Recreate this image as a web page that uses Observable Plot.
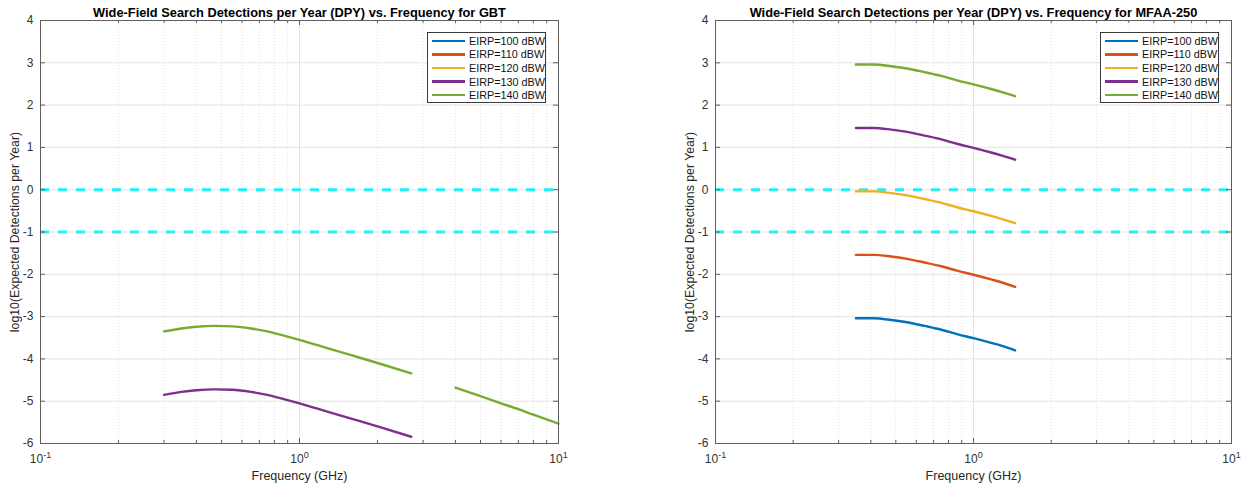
<!DOCTYPE html>
<html>
<head>
<meta charset="utf-8">
<script src="https://cdn.jsdelivr.net/npm/d3@7"></script>
<script src="https://cdn.jsdelivr.net/npm/@observablehq/plot@0.6"></script>
<style>
  body { margin: 0; background: #fff; }
  #wrap { display: flex; width: 1255px; height: 487px; font-family: "Liberation Sans", Arial, sans-serif; }
  .panel { position: relative; height: 487px; }
  .legend { position: absolute; box-sizing: border-box; width: 119px; height: 71px; border: 1px solid #3a3a3a;
            background: #fff; font-size: 10.8px; color: #111; padding-top: 1px; }
  .row { height: 13.6px; display: flex; align-items: center; white-space: nowrap; }
  .sw { width: 33px; height: 2.6px; margin-left: 4px; margin-right: 4px; flex: none; }
</style>
</head>
<body>
<div id="wrap"></div>
<script>
// ---------- data ----------
const eirpLabels = ["EIRP=100 dBW", "EIRP=110 dBW", "EIRP=120 dBW", "EIRP=130 dBW", "EIRP=140 dBW"];
const eirpColors = ["#0072BD", "#D95319", "#EDB120", "#7E2F8E", "#77AC30"];

const xTicks = [0.1, 1, 10];
const xTickLabels = ["10^-1", "10^0", "10^1"];
const minorXTicks = [0.2, 0.3, 0.4, 0.5, 0.6, 0.7, 0.8, 0.9, 2, 3, 4, 5, 6, 7, 8, 9];
const yTicks = [-6, -5, -4, -3, -2, -1, 0, 1, 2, 3, 4];
const yTickLabels = ["-6", "-5", "-4", "-3", "-2", "-1", "0", "1", "2", "3", "4"];
const thresholds = [0, -1];

const titleGBT = "Wide-Field Search Detections per Year (DPY) vs. Frequency for GBT";
const titleMFAA = "Wide-Field Search Detections per Year (DPY) vs. Frequency for MFAA-250";
const xLabel = "Frequency (GHz)";
const yLabel = "log10(Expected Detections per Year)";

// GBT (only EIRP=130 and 140 fall inside the plotted range)
const gbtFreqLow = [0.3, 0.35, 0.40, 0.47, 0.55, 0.65, 0.75, 0.87, 1.0, 1.28, 1.62, 2.06, 2.7];
const gbt130Low  = [-4.85, -4.78, -4.74, -4.72, -4.73, -4.78, -4.85, -4.95, -5.05, -5.245, -5.43, -5.62, -5.84];
const gbt140Low  = [-3.35, -3.28, -3.24, -3.22, -3.23, -3.28, -3.35, -3.45, -3.55, -3.745, -3.93, -4.12, -4.34];
const gbtFreqHigh = [4.0, 5, 6, 7, 8, 10];
const gbt140High  = [-4.68, -4.88, -5.05, -5.19, -5.32, -5.53];

// MFAA-250
const mfaaFreq = [0.35, 0.41, 0.48, 0.56, 0.645, 0.75, 0.87, 1.0, 1.17, 1.3, 1.45];
const mfaa100 = [-3.04, -3.04, -3.08, -3.14, -3.22, -3.31, -3.42, -3.51, -3.62, -3.70, -3.80];
const mfaa110 = [-1.54, -1.54, -1.58, -1.64, -1.72, -1.81, -1.92, -2.01, -2.12, -2.20, -2.30];
const mfaa120 = [-0.04, -0.04, -0.08, -0.14, -0.22, -0.31, -0.42, -0.51, -0.62, -0.70, -0.79];
const mfaa130 = [1.46, 1.46, 1.42, 1.36, 1.28, 1.19, 1.08, 0.99, 0.88, 0.80, 0.71];
const mfaa140 = [2.96, 2.96, 2.92, 2.86, 2.78, 2.69, 2.58, 2.49, 2.38, 2.30, 2.21];

// ---------- build tables ----------
function seriesRows(freqs, vals, series, key) {
  return freqs.map((f, i) => ({ f, v: vals[i], series, key }));
}
const gbtRows = [
  ...seriesRows(gbtFreqLow, gbt130Low, eirpLabels[3], "130a"),
  ...seriesRows(gbtFreqLow, gbt140Low, eirpLabels[4], "140a"),
  ...seriesRows(gbtFreqHigh, gbt140High, eirpLabels[4], "140b")
];
const mfaaRows = [
  ...seriesRows(mfaaFreq, mfaa100, eirpLabels[0], "100"),
  ...seriesRows(mfaaFreq, mfaa110, eirpLabels[1], "110"),
  ...seriesRows(mfaaFreq, mfaa120, eirpLabels[2], "120"),
  ...seriesRows(mfaaFreq, mfaa130, eirpLabels[3], "130"),
  ...seriesRows(mfaaFreq, mfaa140, eirpLabels[4], "140")
];

const FONT = '"Liberation Sans", Arial, Helvetica, sans-serif';
const AXC = "#5e5e5e";

function panel({ width, ml, mr, title, rows }) {
  const mt = 20, mb = 44, height = 487;
  const fw = width - ml - mr, fh = height - mt - mb;
  const chart = Plot.plot({
    width, height,
    marginLeft: ml, marginRight: mr, marginTop: mt, marginBottom: mb,
    x: { type: "log", domain: [0.1, 10] },
    y: { domain: [-6, 4] },
    color: { domain: eirpLabels, range: eirpColors },
    style: { fontFamily: FONT, fontSize: "12px", color: "#262626", background: "white", overflow: "visible" },
    marks: [
      Plot.ruleX(minorXTicks, { stroke: "#e0e0e0", strokeDasharray: "1,2", strokeWidth: 1 }),
      Plot.ruleX(xTicks, { stroke: "#e3e3e3", strokeWidth: 1 }),
      Plot.ruleY(yTicks, { stroke: "#e3e3e3", strokeWidth: 1 }),
      Plot.ruleY(thresholds, { stroke: "#22f2f5", strokeWidth: 3, strokeDasharray: "9,9" }),
      Plot.line(rows, { x: "f", y: "v", z: "key", stroke: "series", strokeWidth: 2.4, curve: "monotone-x" }),
      // inward ticks (bottom/top, left/right)
      Plot.ruleX(minorXTicks, { stroke: AXC, insetTop: fh - 3 }),
      Plot.ruleX(minorXTicks, { stroke: AXC, insetBottom: fh - 3 }),
      Plot.ruleX(xTicks, { stroke: AXC, insetTop: fh - 5 }),
      Plot.ruleX(xTicks, { stroke: AXC, insetBottom: fh - 5 }),
      Plot.ruleY(yTicks, { stroke: AXC, insetRight: fw - 5 }),
      Plot.ruleY(yTicks, { stroke: AXC, insetLeft: fw - 5 }),
      Plot.frame({ stroke: AXC, strokeWidth: 1 }),
      Plot.axisX(xTicks, { tickSize: 0, tickPadding: 11, fontSize: 12, fill: "#333", label: null,
        tickFormat: d => xTickLabels[xTicks.indexOf(d)] }),
      Plot.axisY(yTicks, { tickSize: 0, tickPadding: 7, fontSize: 12, fill: "#333", label: null,
        tickFormat: d => yTickLabels[yTicks.indexOf(d)] }),
      Plot.text([title], { text: d => d, frameAnchor: "top", dy: -13, fontWeight: "bold", fontSize: 12.8, fill: "#000" }),
      Plot.text([xLabel], { text: d => d, frameAnchor: "bottom", dy: 36, fontSize: 12.5, fill: "#262626" }),
      Plot.text([yLabel], { text: d => d, frameAnchor: "left", textAnchor: "middle", rotate: -90, dx: -25, fontSize: 12.3, fill: "#262626" })
    ]
  });
  // render "10^e" tick labels with a real superscript
  chart.querySelectorAll('g[aria-label="x-axis tick label"] text').forEach(t => {
    const s = t.textContent;
    if (!s.includes("^")) return;
    const [base, exp] = s.split("^");
    t.textContent = "";
    const ns = "http://www.w3.org/2000/svg";
    const a = document.createElementNS(ns, "tspan");
    a.textContent = base;
    const b = document.createElementNS(ns, "tspan");
    b.textContent = exp;
    b.setAttribute("dy", "-5");
    b.setAttribute("font-size", "9");
    t.appendChild(a); t.appendChild(b);
  });
  const div = document.createElement("div");
  div.className = "panel";
  div.style.width = width + "px";
  div.appendChild(chart);
  // legend
  const lg = document.createElement("div");
  lg.className = "legend";
  lg.style.left = (ml + fw - 12 - 119) + "px";
  lg.style.top = (mt + 12) + "px";
  eirpLabels.forEach((lab, i) => {
    const r = document.createElement("div");
    r.className = "row";
    const sw = document.createElement("span");
    sw.className = "sw";
    sw.style.background = eirpColors[i];
    const t = document.createElement("span");
    t.textContent = lab;
    r.appendChild(sw); r.appendChild(t);
    lg.appendChild(r);
  });
  div.appendChild(lg);
  return div;
}

const wrap = document.getElementById("wrap");
wrap.appendChild(panel({ width: 627, ml: 40, mr: 69, title: titleGBT, rows: gbtRows }));
wrap.appendChild(panel({ width: 628, ml: 88, mr: 24, title: titleMFAA, rows: mfaaRows }));
</script>
</body>
</html>
